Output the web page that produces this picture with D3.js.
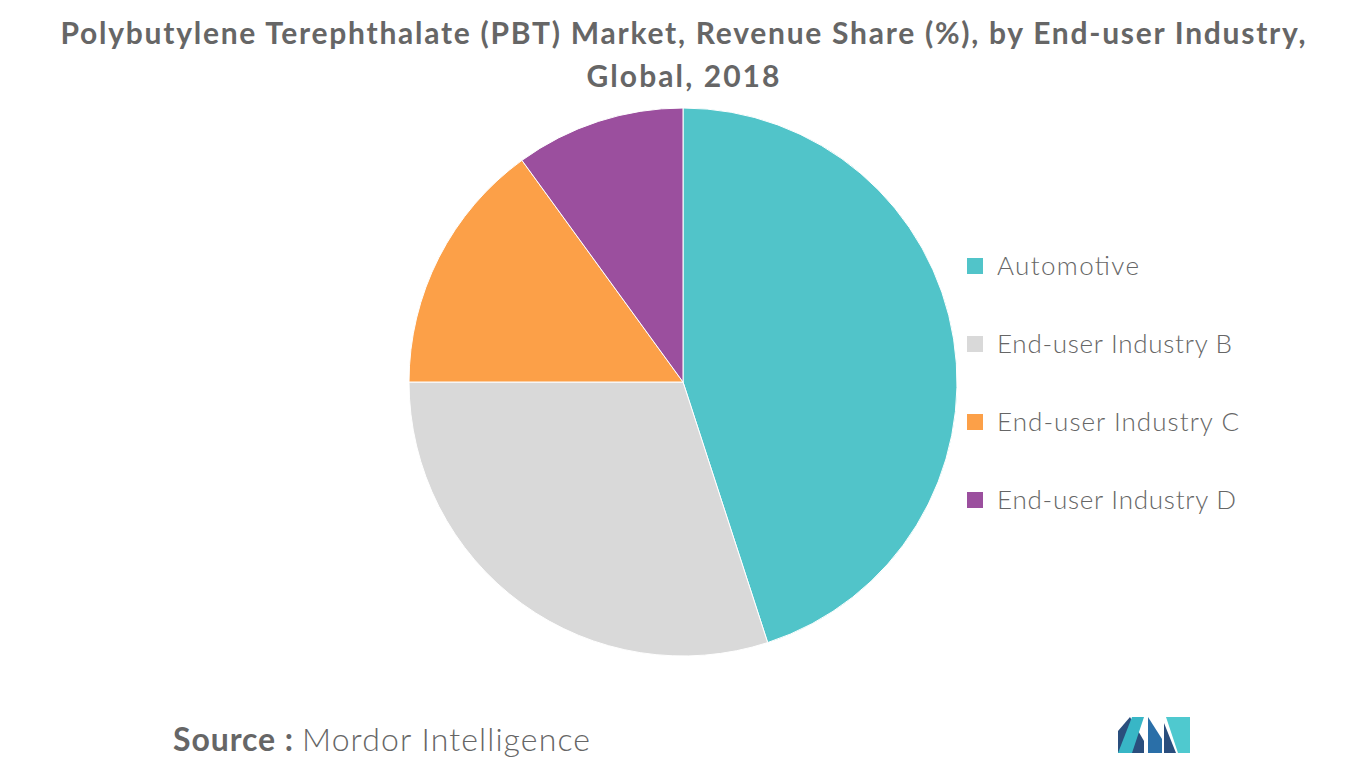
<!DOCTYPE html><html><head><meta charset="utf-8"><script src="https://cdn.jsdelivr.net/npm/d3@7"></script>
<style>body{margin:0;background:#fff}</style></head><body><svg id="c" width="1366" height="768"></svg>
<script>
const categories=["Automotive","End-user Industry B","End-user Industry C","End-user Industry D"];
const values=[45,30,15,10];
const colors=["#51c4c9","#d9d9d9","#fca048","#9b4f9e"];
const svg=d3.select("#c");
const font="Lato, 'Open Sans', sans-serif";
function tx(x,y,size,weight,txt,len,anchor){return svg.append("text").attr("x",x).attr("y",y).attr("text-anchor",anchor||"start").attr("font-family",font).attr("font-weight",weight).attr("font-size",size).attr("fill","#666").attr("textLength",len).attr("lengthAdjust","spacing").text(txt);}
tx(683,44,30,"bold","Polybutylene Terephthalate (PBT) Market, Revenue Share (%), by End-user Industry,",1245,"middle");
tx(683,87,30,"bold","Global, 2018",193,"middle");
const pie=d3.pie().sort(null).value(d=>d)(values);
const arc=d3.arc().innerRadius(0).outerRadius(274);
svg.append("g").attr("transform","translate(683,382)").selectAll("path").data(pie).join("path").attr("d",arc).attr("fill",(d,i)=>colors[i]).attr("stroke","#fff").attr("stroke-width",1);
const y=d3.scalePoint().domain(categories).range([266,500]);
const lens=[142,235,242,239];
const lg=svg.append("g").selectAll("g").data(categories).join("g").attr("transform",d=>`translate(967,${y(d)})`);
lg.append("rect").attr("x",0).attr("y",-8).attr("width",16).attr("height",16).attr("fill",(d,i)=>colors[i]);
lg.append("text").attr("x",30).attr("y",9).attr("font-family",font).attr("font-weight",300).attr("font-size",26).attr("fill","#666").attr("textLength",(d,i)=>lens[i]).attr("lengthAdjust","spacing").text(d=>d);
tx(173,751,32,"bold","Source :",120);
tx(302,751,32,300,"Mordor Intelligence",288);
const L=svg.append("g").attr("transform","translate(1118,717)");
L.append("path").attr("d","M0,36 L0,14 L12,0 L26,24 L26,36 Z").attr("fill","#2a4e7d");
L.append("path").attr("d","M0,36 L14,0 L26,0 L14,36Z").attr("fill","#38b6c6");
L.append("path").attr("d","M30,36 L30,0 L44,22 L44,36Z").attr("fill","#2a6fa8");
L.append("path").attr("d","M48,0 L72,0 L72,36 L60,36Z").attr("fill","#4fc9cf");
L.append("path").attr("d","M46,36 L46,6 L58,36Z").attr("fill","#2a4e7d");
</script></body></html>
